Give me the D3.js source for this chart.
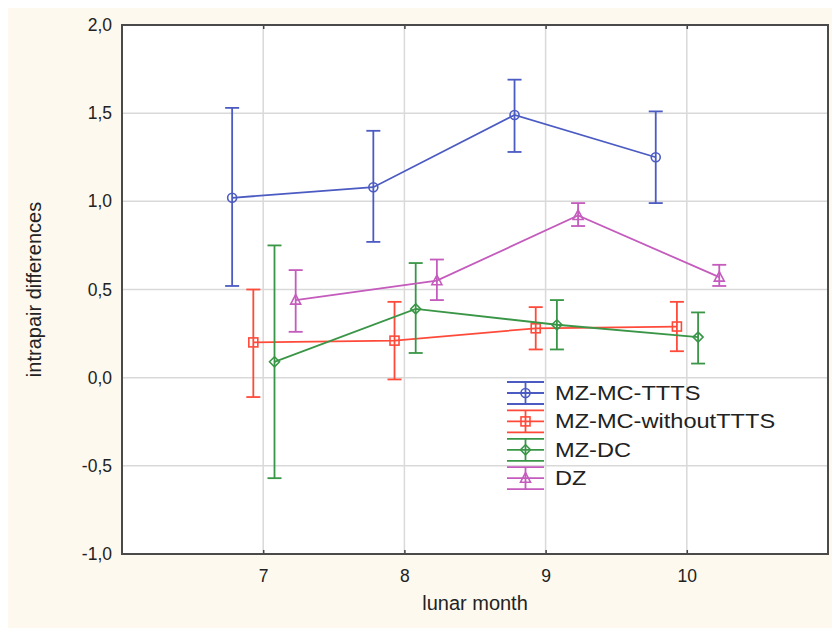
<!DOCTYPE html>
<html>
<head>
<meta charset="utf-8">
<script src="https://cdn.jsdelivr.net/npm/d3@7"></script>
<style>
    body { margin: 0; background: #ffffff; }
    text { font-family: "Liberation Sans", Arial, sans-serif; fill: #222; }
    .grid line { stroke: #d9d9d9; stroke-width: 1.5; }
</style>
</head>
<body>
<svg id="chart" width="832" height="628"></svg>
<script>
// lunar months on the x axis
var months = [7, 8, 9, 10];
var seriesNames = ["MZ-MC-TTTS", "MZ-MC-withoutTTTS", "MZ-DC", "DZ"];

// means and error bar ends
var ttsMean = [1.02, 1.08, 1.49, 1.25];
var ttsLow  = [0.52, 0.77, 1.28, 0.99];
var ttsHigh = [1.53, 1.40, 1.69, 1.51];

var withoutMean = [0.20, 0.21, 0.28, 0.29];
var withoutLow  = [-0.11, -0.01, 0.16, 0.15];
var withoutHigh = [0.50, 0.43, 0.40, 0.43];

var dcMean = [0.09, 0.39, 0.30, 0.23];
var dcLow  = [-0.57, 0.14, 0.16, 0.08];
var dcHigh = [0.75, 0.65, 0.44, 0.37];

var dzMean = [0.44, 0.55, 0.92, 0.57];
var dzLow  = [0.26, 0.44, 0.86, 0.52];
var dzHigh = [0.61, 0.67, 0.99, 0.64];

var yTicks = [-1.0, -0.5, 0.0, 0.5, 1.0, 1.5, 2.0];

var colors = ["#4b5bc2", "#ff4a3a", "#3a9647", "#c45bbd"];
var shapes = ["circle", "square", "diamond", "triangle"];

var series = [
    {name: seriesNames[0], mean: ttsMean, low: ttsLow, high: ttsHigh},
    {name: seriesNames[1], mean: withoutMean, low: withoutLow, high: withoutHigh},
    {name: seriesNames[2], mean: dcMean, low: dcLow, high: dcHigh},
    {name: seriesNames[3], mean: dzMean, low: dzLow, high: dzHigh}
];

var margin = {top: 25, right: 4, bottom: 74, left: 122},
    width = 832 - margin.left - margin.right,
    height = 628 - margin.top - margin.bottom;

var svg = d3.select("#chart");

// cream page background
svg.append("rect")
    .attr("x", 8).attr("y", 8)
    .attr("width", 824).attr("height", 620)
    .attr("fill", "#fdf9ef");

var g = svg.append("g")
    .attr("transform", "translate(" + margin.left + "," + margin.top + ")");

var x = d3.scaleLinear().domain([6, 11]).range([0, width]);
var y = d3.scaleLinear().domain([-1, 2]).range([height, 0]);

// comma decimals like the original
var locale = d3.formatLocale({decimal: ",", thousands: ".", grouping: [3], currency: ["", ""], minus: "-"});
var fmt = locale.format(".1f");

g.append("rect")
    .attr("width", width).attr("height", height)
    .attr("fill", "#ffffff");

// grid lines
var grid = g.append("g").attr("class", "grid");
grid.selectAll(".vg")
    .data(months)
    .enter().append("line")
    .attr("x1", function(d) { return x(d); })
    .attr("x2", function(d) { return x(d); })
    .attr("y1", 0).attr("y2", height);
grid.selectAll(".hg")
    .data(yTicks.slice(1, -1))
    .enter().append("line")
    .attr("y1", function(d) { return y(d); })
    .attr("y2", function(d) { return y(d); })
    .attr("x1", 0).attr("x2", width);

// axes, ticks point inward
var xAxis = g.append("g")
    .attr("transform", "translate(0," + height + ")")
    .call(d3.axisBottom(x).tickValues(months).tickFormat(d3.format("d"))
        .tickSizeInner(-4).tickSizeOuter(0).tickPadding(16));
var xTop = g.append("g")
    .call(d3.axisTop(x).tickValues(months).tickSizeInner(-4).tickSizeOuter(0).tickFormat(""));
var yAxis = g.append("g")
    .call(d3.axisLeft(y).tickValues(yTicks).tickSize(0).tickPadding(10).tickFormat(fmt));

[xAxis, xTop, yAxis].forEach(function(a) {
    a.select(".domain").remove();
    a.selectAll("line").attr("stroke", "#444").attr("stroke-width", 1.5);
    a.selectAll("text").attr("font-size", "17.5px").attr("fill", "#222");
});

// plot frame
g.append("rect")
    .attr("width", width).attr("height", height)
    .attr("fill", "none")
    .attr("stroke", "#4a4a4a")
    .attr("stroke-width", 2);

// axis titles
svg.append("text")
    .attr("x", margin.left + width / 2)
    .attr("y", 610)
    .attr("text-anchor", "middle")
    .attr("font-size", "20px")
    .text("lunar month");

svg.append("text")
    .attr("transform", "translate(41," + (margin.top + height / 2) + ") rotate(-90)")
    .attr("text-anchor", "middle")
    .attr("font-size", "20px")
    .text("intrapair differences");

// draws a marker shape centred on 0,0
function marker(sel, shape, color) {
    if (shape == "circle") {
        sel.append("circle").attr("r", 4.5);
    } else if (shape == "square") {
        sel.append("rect").attr("x", -4.5).attr("y", -4.5).attr("width", 9).attr("height", 9);
    } else if (shape == "diamond") {
        sel.append("path").attr("d", "M0,-5L5,0L0,5L-5,0Z");
    } else {
        sel.append("path").attr("d", "M0,-5.5L5,4L-5,4Z");
    }
    sel.selectAll("circle,rect,path")
        .attr("fill", "none")
        .attr("stroke", color)
        .attr("stroke-width", 1.6);
}

var capW = 7;
var line = d3.line()
    .x(function(d) { return x(d.mx); })
    .y(function(d) { return y(d.v); });

series.forEach(function(s, i) {
    // each group is shifted a bit sideways around the month
    var dodge = (i - 1.5) * 0.15 + 0.005;
    var pts = months.map(function(m, j) {
        return {mx: m + dodge, v: s.mean[j], lo: s.low[j], hi: s.high[j]};
    });
    var sg = g.append("g")
        .attr("stroke", colors[i])
        .attr("stroke-width", 1.8)
        .attr("fill", "none");

    sg.append("path").attr("d", line(pts));

    var eb = sg.selectAll(".eb")
        .data(pts)
        .enter().append("g");
    eb.append("line")
        .attr("x1", function(d) { return x(d.mx); })
        .attr("x2", function(d) { return x(d.mx); })
        .attr("y1", function(d) { return y(d.lo); })
        .attr("y2", function(d) { return y(d.hi); });
    eb.append("line")
        .attr("x1", function(d) { return x(d.mx) - capW; })
        .attr("x2", function(d) { return x(d.mx) + capW; })
        .attr("y1", function(d) { return y(d.hi); })
        .attr("y2", function(d) { return y(d.hi); });
    eb.append("line")
        .attr("x1", function(d) { return x(d.mx) - capW; })
        .attr("x2", function(d) { return x(d.mx) + capW; })
        .attr("y1", function(d) { return y(d.lo); })
        .attr("y2", function(d) { return y(d.lo); });

    pts.forEach(function(d) {
        var mk = sg.append("g").attr("transform", "translate(" + x(d.mx) + "," + y(d.v) + ")");
        marker(mk, shapes[i], colors[i]);
    });
});

// legend, no box, grid shows through
var legend = svg.append("g").attr("transform", "translate(507,393)");
series.forEach(function(s, i) {
    var row = legend.append("g").attr("transform", "translate(0," + (i * 28.4) + ")");
    var sym = row.append("g").attr("stroke", colors[i]).attr("stroke-width", 1.8);
    [-11, 0, 11].forEach(function(dy) {
        sym.append("line").attr("x1", 0).attr("x2", 37).attr("y1", dy).attr("y2", dy);
    });
    sym.append("line").attr("x1", 18.5).attr("x2", 18.5).attr("y1", -11).attr("y2", 11);
    var mk = row.append("g").attr("transform", "translate(18.5,0)");
    marker(mk, shapes[i], colors[i]);
    row.append("g")
        .attr("transform", "translate(48,0) scale(1.18,1)")
        .append("text")
        .attr("y", 7)
        .attr("font-size", "20px")
        .text(s.name);
});
</script>
</body>
</html>
